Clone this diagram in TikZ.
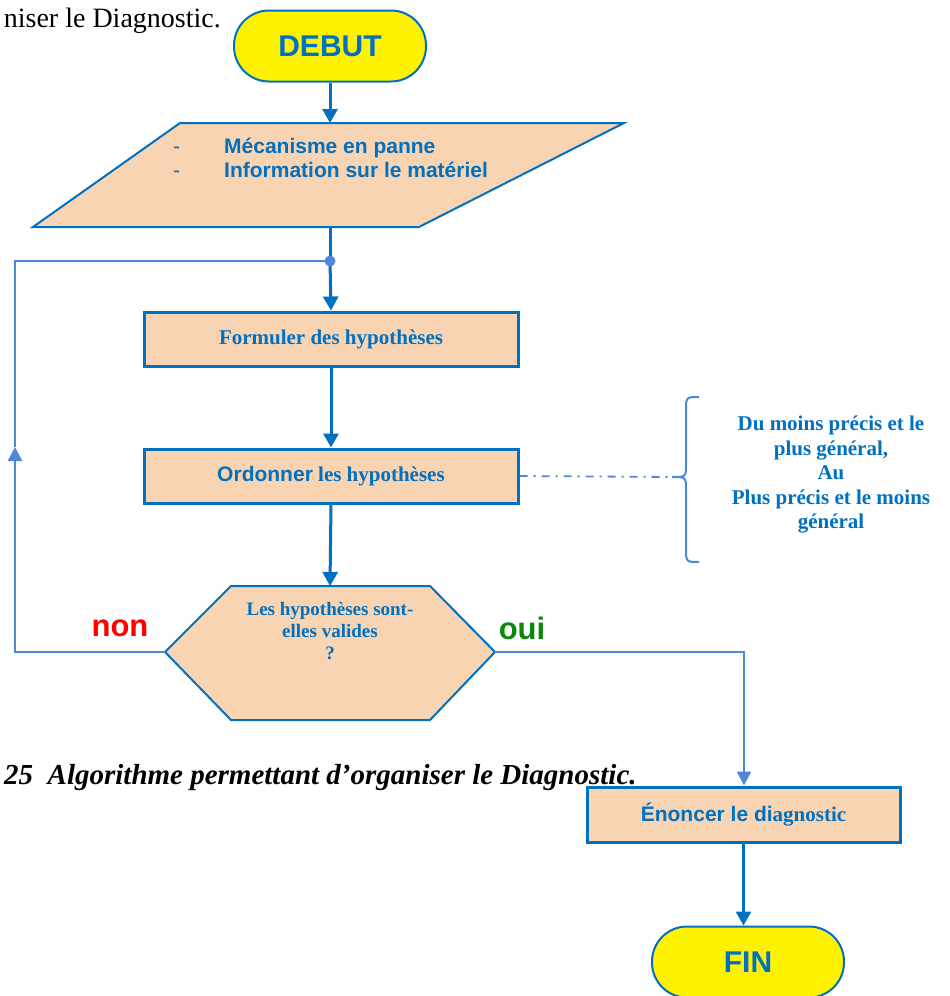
\documentclass[tikz,border=0pt]{standalone}
\usepackage{fontspec}
\setmainfont{Liberation Serif}
\setsansfont{Liberation Sans}
\usetikzlibrary{arrows.meta}
\definecolor{flowblue}{HTML}{0070C0}
\definecolor{linkblue}{HTML}{4F88D8}
\definecolor{peach}{HTML}{F9D4B3}
\definecolor{okgreen}{HTML}{0B870B}
\newcommand\setfs[1]{\fontsize{#1}{#1}\selectfont}
\begin{document}
\begin{tikzpicture}[x=1pt,y=-1pt,
  terminal/.style={draw=flowblue, line width=2pt, fill=yellow, rounded corners=35pt,
    minimum width=192pt, minimum height=71pt, inner sep=0pt, text=flowblue,
    font=\sffamily\bfseries\setfs{30}},
  procbox/.style={draw=flowblue, line width=3pt, fill=peach, minimum width=374pt,
    minimum height=54pt, inner sep=0pt, text=flowblue, font=\bfseries\setfs{21}},
  shapeline/.style={draw=flowblue, line width=2pt, fill=peach},
  itemtext/.style={text=flowblue, font=\sffamily\bfseries\setfs{21}, inner sep=0pt},
  flowarrow/.style={draw=flowblue, line width=3pt, -{Triangle[length=14pt,width=15pt]}},
  linkline/.style={draw=linkblue, line width=2.5pt},
  linkarrow/.style={linkline, -{Triangle[length=14pt,width=14pt]}},
  answer/.style={font=\sffamily\bfseries\setfs{31}, inner sep=0pt},
]
\useasboundingbox (0,0) rectangle (950,996);

% heading fragment
\node[anchor=base east, font=\setfs{28}, inner sep=0pt] (headtxt) at (221,27) {niser le Diagnostic.};

% start terminal
\node[terminal] (debut) at (330,46) {DEBUT};

% input block
\coordinate (pTL) at (180,123);
\coordinate (pTR) at (624,123);
\coordinate (pBR) at (419,227);
\coordinate (pBL) at (33,227);
\coordinate (pin) at (330,123);
\coordinate (pout) at (330,227);
\path[shapeline] (pTL) -- (pTR) -- (pBR) -- (pBL) -- cycle;
\node[itemtext, font=\sffamily\setfs{21}, anchor=base west] (dashA) at (173,153) {-};
\node[itemtext, anchor=base west] (itemA) at (224,153) {Mécanisme en panne};
\node[itemtext, font=\sffamily\setfs{21}, anchor=base west] (dashB) at (173,177) {-};
\node[itemtext, anchor=base west] (itemB) at (224,177) {Information sur le matériel};

% loop junction
\coordinate (junc) at (330,261);

% process boxes
\node[procbox] (formuler) at (331,339) {Formuler des hypothèses};
\node[procbox] (ordonner) at (331,476) {{\sffamily Ordonner} les hypothèses};

% decision hexagon
\coordinate (hL) at (165,652);
\coordinate (hTL) at (231,586);
\coordinate (hTR) at (430,586);
\coordinate (hR) at (495,652);
\coordinate (hBR) at (430,720);
\coordinate (hBL) at (231,720);
\coordinate (hTop) at (330,586);
\path[shapeline] (hL) -- (hTL) -- (hTR) -- (hR) -- (hBR) -- (hBL) -- cycle;
\node[text=flowblue, font=\bfseries\setfs{19}, align=center, inner sep=0pt] (question)
  at (330,631) {Les hypothèses sont-\\[3pt]elles valides\\[3pt]?};

\node[answer, text=red] (non) at (120,628) {non};
\node[answer, text=okgreen] (oui) at (522,628) {oui};

% final steps
\node[procbox, minimum width=313pt, minimum height=55pt] (enoncer) at (743.5,814.5)
  {{\sffamily Énoncer le di}agnostic};
\node[terminal] (fin) at (748,962) {FIN};

% main flow
\draw[flowarrow] (debut.south) -- (pin);
\draw[flowblue, line width=3pt] (pout) -- (junc);
\draw[flowarrow] (junc) -- (formuler.north);
\draw[flowarrow] (formuler.south) -- (ordonner.north);
\draw[flowarrow] (ordonner.south) -- (hTop);
\draw[flowarrow] (enoncer.south) -- (enoncer.south |- fin.north);

% "non" loop back
\coordinate (loopBL) at (15,652);
\coordinate (loopMid) at (15,447);
\coordinate (loopTL) at (15,261);
\draw[linkarrow] (hL) -- (loopBL) -- (loopMid);
\draw[linkline] (loopMid) -- (loopTL) -- (junc);
\fill[linkblue] (junc) circle (5.5pt);

% "oui" branch
\coordinate (ouiCorner) at (744,652);
\draw[linkarrow] (hR) -- (ouiCorner) -- (ouiCorner |- enoncer.north);

% annotation brace
\coordinate (braceTop) at (699,397);
\coordinate (braceTip) at (672,477);
\coordinate (braceBot) at (699,562);
\draw[linkline, line width=1.8pt, dash pattern=on 8pt off 6pt on 2pt off 6pt]
  (ordonner.east) -- (braceTip);
\draw[linkline, line width=2pt] (braceTop) .. controls (686,397) .. (686,411)
  -- (686,464) .. controls (686,477) .. (braceTip)
  .. controls (686,477) .. (686,490) -- (686,548)
  .. controls (686,562) .. (braceBot);
\node[text=flowblue, font=\bfseries\setfs{21}, align=center, inner sep=0pt] (ordre)
  at (831,475) {Du moins précis et le\\[3.5pt]plus général,\\[3.5pt]Au\\[3.5pt]Plus précis et le moins\\[3.5pt]général};

% caption
\node[anchor=base west, font=\bfseries\itshape\setfs{29}, inner sep=0pt] (caption)
  at (4,784) {25\ \ Algorithme permettant d’organiser le Diagnostic.};
\end{tikzpicture}
\end{document}
